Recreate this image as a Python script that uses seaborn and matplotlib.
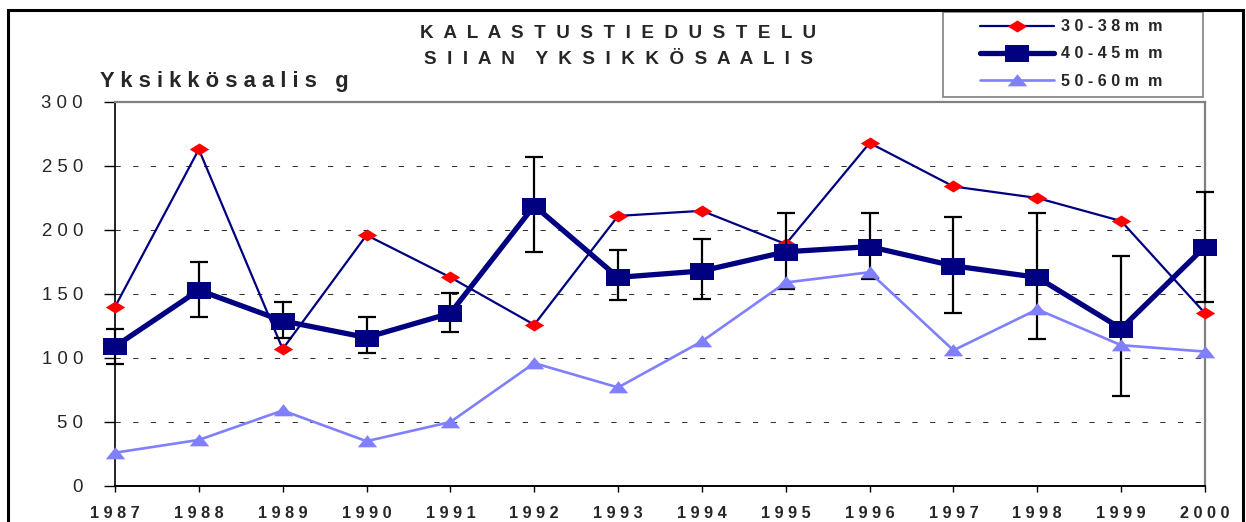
import numpy as np
import pandas as pd
import matplotlib
matplotlib.use("Agg")
from matplotlib import pyplot as plt
from matplotlib.patches import Rectangle
import seaborn as sns

years = list(range(1987, 2001))
s30_38 = [140, 263, 107, 196, 163, 126, 211, 215, 189, 268, 234, 225, 207, 135]
s40_45 = [109, 153, 129, 116, 135, 219, 163, 168, 183, 187, 172, 163, 123, 187]
err_hi = [123, 175, 144, 132, 151, 257, 184, 193, 213, 213, 210, 213, 180, 230]
err_lo = [95, 132, 116, 104, 120, 183, 145, 146, 154, 162, 135, 115, 70, 144]
s50_60 = [26, 36, 59, 35, 50, 96, 77, 113, 159, 167, 106, 138, 110, 105]
series_names = ["3 0 - 3 8 m  m", "4 0 - 4 5 m  m", "5 0 - 6 0 m  m"]
yticks = [0, 50, 100, 150, 200, 250, 300]

sns.set_style("ticks")
plt.rcParams['font.family'] = ['Liberation Sans', 'DejaVu Sans']

W, H = 1246, 522
fig = plt.figure(figsize=(W / 100, H / 100), dpi=100)
ax = fig.add_axes([115 / W, 1 - 486 / H, (1205 - 115) / W, (486 - 102) / H])

df = pd.DataFrame({"year": years, "a": s30_38, "b": s40_45, "c": s50_60})

diamond = [(-1, 0), (0, 0.62), (1, 0), (0, -0.62), (-1, 0)]
rect = [(-1, -0.72), (1, -0.72), (1, 0.72), (-1, 0.72), (-1, -0.72)]
tri = [(-1, -0.6), (1, -0.6), (0, 0.65), (-1, -0.6)]

navy = "#000080"
sns.lineplot(data=df, x="year", y="a", ax=ax, color=navy, lw=1.6,
             marker=diamond, markersize=14, markerfacecolor="red",
             markeredgecolor="red", markeredgewidth=0,
             label=series_names[0], clip_on=False, zorder=3)

lo = np.array(s40_45) - np.array(err_lo)
hi = np.array(err_hi) - np.array(s40_45)
eb = ax.errorbar(years, s40_45, yerr=[lo, hi], fmt="none", ecolor="black",
                 elinewidth=1.6, capsize=6.5, capthick=1.6, zorder=4)
for art in eb.lines[1] + eb.lines[2]:
    art.set_clip_on(False)

sns.lineplot(data=df, x="year", y="b", ax=ax, color=navy, lw=3.8,
             marker=rect, markersize=17, markerfacecolor=navy,
             markeredgecolor=navy, markeredgewidth=0,
             label=series_names[1], clip_on=False, zorder=5)
sns.lineplot(data=df, x="year", y="c", ax=ax, color="#8080FF", lw=1.9,
             marker=tri, markersize=14, markerfacecolor="#8080FF",
             markeredgecolor="#8080FF", markeredgewidth=0,
             label=series_names[2], clip_on=False, zorder=6)

ax.set_xlim(1987, 2000)
ax.set_ylim(0, 300)
ax.set_xticks(years)
ax.set_xticklabels([" ".join(str(y)) for y in years], fontweight="bold", fontsize=11.7)
ax.set_yticks(yticks)
ax.set_yticklabels([" ".join(str(v)) for v in yticks], fontsize=13.4)
ax.tick_params(axis="y", length=8, width=1, pad=15, color="black")
ax.tick_params(axis="x", length=4.5, width=1, pad=10, color="black")
ax.set_xlabel("")
ax.set_ylabel("")

for v in yticks[1:-1]:
    ax.axhline(v, color="#333333", lw=0.75, ls=(0, (5, 12)), zorder=1)

ax.spines["left"].set_color("black")
ax.spines["left"].set_linewidth(1.2)
ax.spines["bottom"].set_color("black")
ax.spines["bottom"].set_linewidth(1.4)
for s in ["top", "right"]:
    ax.spines[s].set_visible(True)
    ax.spines[s].set_color("#808080")
    ax.spines[s].set_linewidth(1.6)

leg = ax.legend(loc="center", bbox_to_anchor=(1071 / W, 1 - 54 / H),
                bbox_transform=fig.transFigure, frameon=False,
                prop={"weight": "bold", "size": 11.6}, handlelength=4.6,
                handletextpad=0.45, labelspacing=0.75, numpoints=1)
fig.patches.append(Rectangle((943 / W, 1 - 97 / H), 260 / W, 85 / H,
                             transform=fig.transFigure, fill=False,
                             edgecolor="#808080", lw=1.2))

# outer chart frame
fig.patches.append(Rectangle((8 / W, -0.2), (1243 - 8) / W, 1.2 - 10 / H,
                             transform=fig.transFigure, fill=False,
                             edgecolor="black", lw=2.2))

fig.text(618 / W, 1 - 38 / H, "  ".join("KALASTUSTIEDUSTELU"),
         ha="center", va="baseline", fontsize=13.6, fontweight="bold")
fig.text(618 / W, 1 - 64 / H, "    ".join("  ".join(w) for w in ["SIIAN", "YKSIKKÖSAALIS"]),
         ha="center", va="baseline", fontsize=13.6, fontweight="bold")
fig.text(100 / W, 1 - 87 / H, " ".join("Yksikkösaalis") + "   g",
         ha="left", va="baseline", fontsize=15.8, fontweight="bold")

fig.savefig("out.png", dpi=100)
